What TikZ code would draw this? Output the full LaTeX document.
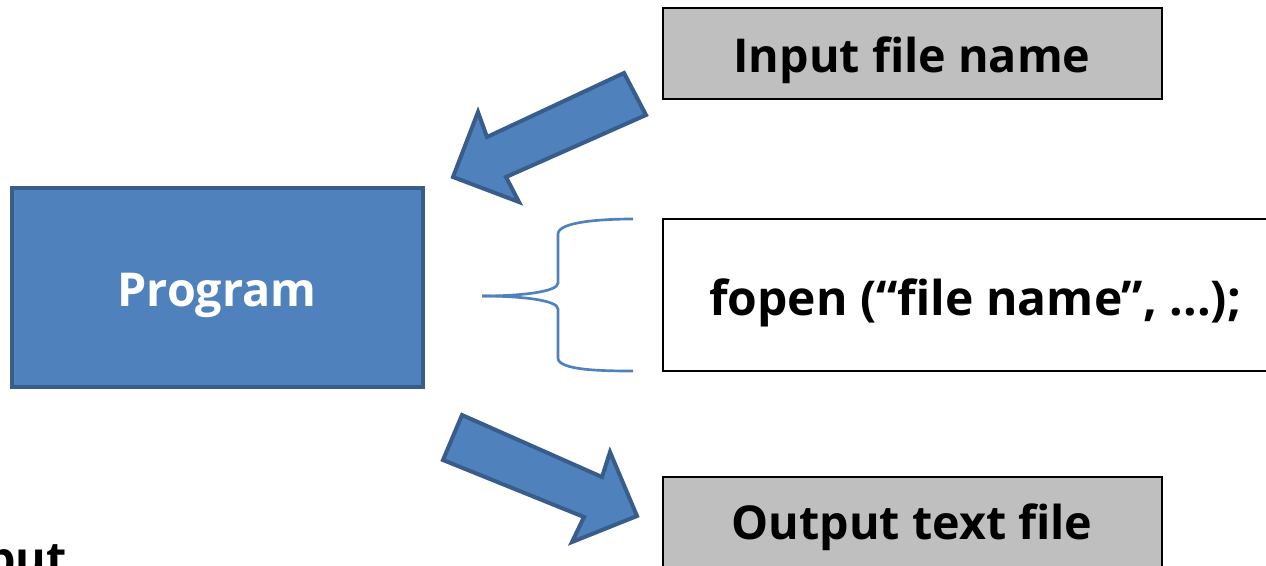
\documentclass[tikz,border=0pt]{standalone}
\usepackage{fontspec}
\setmainfont{Open Sans}
\definecolor{boxgray}{HTML}{BFBFBF}
\definecolor{pblue}{HTML}{4F81BD}
\definecolor{pdark}{HTML}{385D8A}
\begin{document}
\begin{tikzpicture}[x=0.75pt,y=-0.75pt,
  graybox/.style={draw=black,line width=1.5pt,fill=boxgray},
  whitebox/.style={draw=black,line width=1.5pt,fill=white},
  lbl/.style={font=\fontsize{35}{42}\selectfont\bfseries,text=black,inner sep=0pt,anchor=base},
  blockarrow/.style={fill=pblue,draw=pdark,line width=3pt,line join=miter},
  brace/.style={draw=pblue,line width=2pt}]
\useasboundingbox (0,0) rectangle (1266,565);
\clip (0,0) rectangle (1266,565);
% boxes
\draw[graybox] (663,8) rectangle (1162,99);
\node[lbl] (in) at (912,72) {Input file name};
\draw[fill=pblue,draw=pdark,line width=2.5pt] (12,188) rectangle (423,387);
\node[lbl,text=white] (prog) at (217,306) {Program};
\draw[whitebox] (663,219) rectangle (1272,371);
\node[lbl,font=\fontsize{36}{42}\selectfont\bfseries] (fo) at (975,315) {fopen (“file name”, ...);};
\draw[graybox] (663,477) rectangle (1162,590);
\node[lbl] (out) at (912,539) {Output text file};
\node[lbl,anchor=base west] (put) at (-14,575) {put};
% arrows
\draw[blockarrow] (624,73) -- (646,115) -- (506,177) -- (519,202) -- (453,177) -- (478,112) -- (487,137) -- cycle;
\draw[blockarrow] (462,415) -- (602,477) -- (610,452) -- (637,516) -- (572,542) -- (584,517) -- (443,460) -- cycle;
% brace
\draw[brace] (482,296) .. controls (520,296) and (558,292) .. (558,283) -- (558,234) .. controls (558,222) and (600,219) .. (633,219);
\draw[brace] (482,296) .. controls (520,296) and (558,300) .. (558,309) -- (558,358) .. controls (558,370) and (600,371) .. (633,371);
\end{tikzpicture}
\end{document}
